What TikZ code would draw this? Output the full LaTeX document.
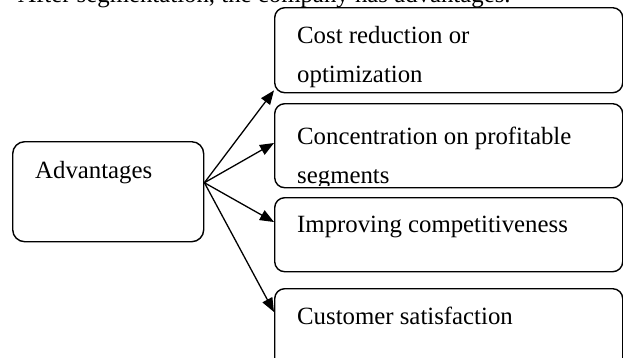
\documentclass[tikz,border=0pt]{standalone}
\usepackage{fontspec}
\setmainfont{Liberation Serif}
\usetikzlibrary{arrows.meta}

\tikzset{
  body/.style={font=\fontsize{24.8}{30}\selectfont, inner sep=0pt},
  txt/.style={body, anchor=base west},
  itembox/.style={draw, line width=1.4pt, rounded corners=10pt,
    minimum width=348pt, anchor=north west, inner sep=0pt},
  mainbox/.style={draw, line width=1.4pt, rounded corners=12pt,
    minimum width=191pt, minimum height=100pt, anchor=north west, inner sep=0pt},
  link/.style={line width=1.3pt, -{Triangle[length=14pt,width=11pt]}}
}

\begin{document}
\begin{tikzpicture}[x=1pt, y=-1pt]
  \useasboundingbox (0,0) rectangle (623,357);

  % lead-in sentence
  \node[txt] (intro) at (18,2) {After segmentation, the company has advantages.};

  % central box
  \node[mainbox] (adv) at (12,141) {};
  \node[txt] (advtxt) at (35,178) {Advantages};

  % list of advantages
  \node[itembox, minimum height=85pt] (c1) at (274,7) {};
  \node[txt] (c1a) at (297,43) {Cost reduction or};
  \node[txt] (c1b) at (297,82) {optimization};

  \node[itembox, minimum height=84pt] (c2) at (274,103) {};
  \node[txt] (c2a) at (297,144) {Concentration on profitable};
  \begin{scope}
    \clip (280,150) rectangle (600,185);
    \node[txt] (c2b) at (297,183) {segments};
  \end{scope}

  \node[itembox, minimum height=74pt] (c3) at (274,197) {};
  \node[txt] (c3a) at (297,232) {Improving competitiveness};

  \node[itembox, minimum height=80pt] (c4) at (274,288) {};
  \node[txt] (c4a) at (297,324) {Customer satisfaction};

  % connectors
  \coordinate (src) at ([yshift=9pt]adv.east);
  \draw[link] (src) -- ([yshift=3pt]c1.south west);
  \draw[link] (src) -- ([yshift=-40pt]c2.north west);
  \draw[link] (src) -- ([yshift=-25pt]c3.north west);
  \draw[link] (src) -- ([yshift=-24pt]c4.north west);
\end{tikzpicture}
\end{document}
